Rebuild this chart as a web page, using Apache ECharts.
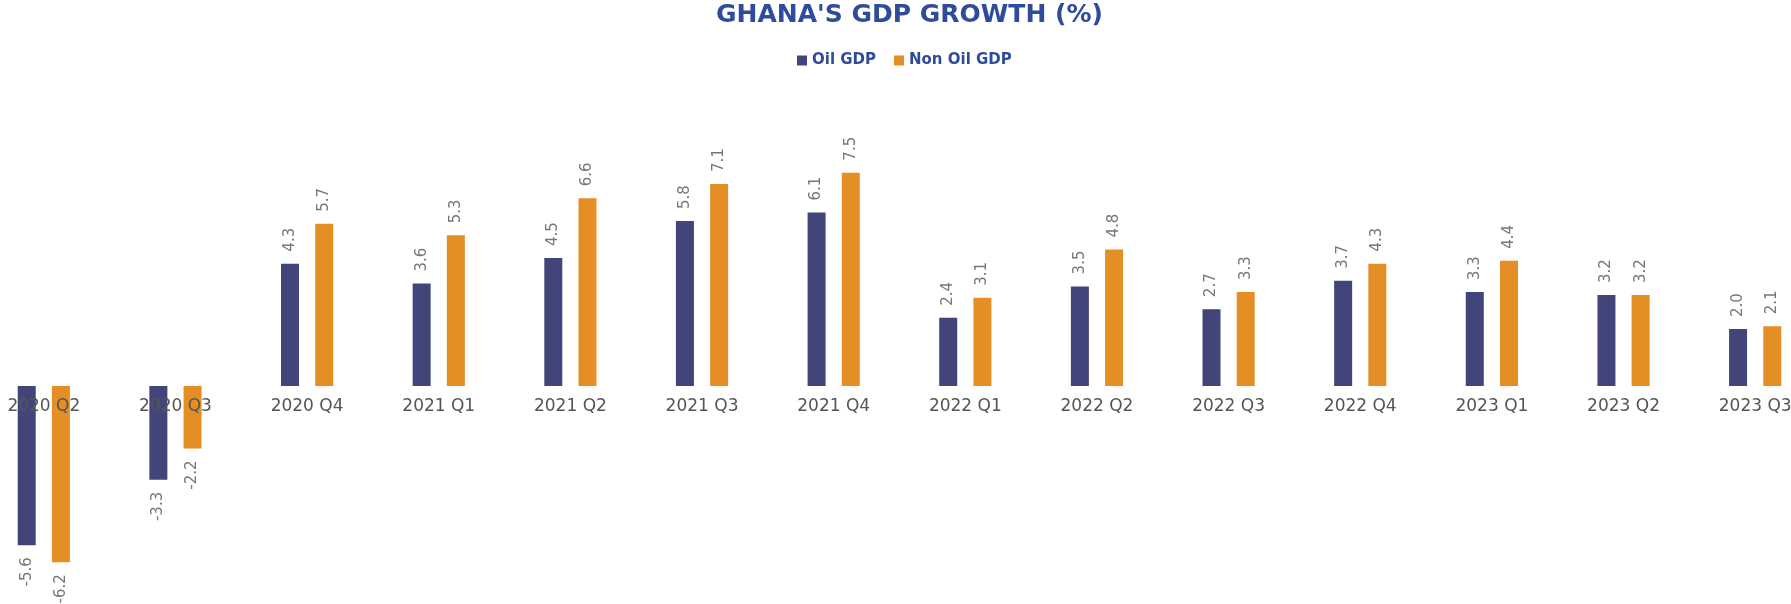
<!DOCTYPE html>
<html lang="en">
<head>
    <meta charset="UTF-8">
    <title>Ghana's GDP Growth</title>
    <script src="https://cdn.jsdelivr.net/npm/echarts@6/dist/echarts.min.js"></script>
    <style>
        html, body { margin: 0; padding: 0; background: #fff; overflow: hidden; }
    </style>
</head>
<body>
    <div id="main" style="width: 1791px; height: 604px;"></div>
    <script type="text/javascript">
        const quarters = ['2020 Q2', '2020 Q3', '2020 Q4', '2021 Q1', '2021 Q2', '2021 Q3', '2021 Q4',
            '2022 Q1', '2022 Q2', '2022 Q3', '2022 Q4', '2023 Q1', '2023 Q2', '2023 Q3'];
        const oilGdp = [-5.6, -3.3, 4.3, 3.6, 4.5, 5.8, 6.1, 2.4, 3.5, 2.7, 3.7, 3.3, 3.2, 2.0];
        const nonOilGdp = [-6.2, -2.2, 5.7, 5.3, 6.6, 7.1, 7.5, 3.1, 4.8, 3.3, 4.3, 4.4, 3.2, 2.1];

        const font = 'DejaVu Sans';

        // negative bars get their label below the bar, positive ones above
        function withLabels(values) {
            return values.map(v => ({
                value: v,
                label: v < 0
                    ? { position: 'bottom', align: 'right' }
                    : { position: 'top', align: 'left' }
            }));
        }

        const valueLabel = {
            show: true,
            rotate: 90,
            distance: 12,
            verticalAlign: 'middle',
            fontFamily: font,
            fontSize: 15,
            color: '#777777',
            formatter: p => p.value.toFixed(1)
        };

        const myChart = echarts.init(document.getElementById('main'));

        const options = {
            animation: false,
            title: {
                text: "GHANA'S GDP GROWTH (%)",
                left: 716,
                top: 0,
                padding: [3, 0, 0, 0],
                textStyle: { fontFamily: font, fontWeight: 'bold', fontSize: 25, color: '#2f4b9b' }
            },
            legend: {
                top: 53,
                left: 797,
                padding: 0,
                icon: 'rect',
                itemWidth: 10,
                itemHeight: 10,
                itemGap: 18,
                itemStyle: { borderWidth: 0 },
                textStyle: { fontFamily: font, fontWeight: 'bold', fontSize: 15, color: '#2f4b9b' },
                data: ['Oil GDP', 'Non Oil GDP']
            },
            // plot area runs past both edges of the picture, as in the original
            grid: { left: -22, right: -30, top: 130, bottom: 19, outerBoundsMode: 'none' },
            xAxis: {
                type: 'category',
                data: quarters,
                z: 5,
                axisLine: { show: false, onZero: false },
                axisTick: { show: false },
                // labels sit just under the zero line (199px above the grid bottom)
                axisLabel: { interval: 0, margin: -187, fontFamily: font, fontSize: 17, color: '#555555' }
            },
            yAxis: {
                type: 'value',
                min: -7,
                max: 9,
                axisLine: { show: false },
                axisTick: { show: false },
                axisLabel: { show: false },
                splitLine: { show: false }
            },
            series: [
                {
                    name: 'Oil GDP',
                    type: 'bar',
                    barWidth: 18,
                    barGap: '90%',
                    itemStyle: { color: '#41457a' },
                    label: valueLabel,
                    data: withLabels(oilGdp)
                },
                {
                    name: 'Non Oil GDP',
                    type: 'bar',
                    barWidth: 18,
                    itemStyle: { color: '#e58e26' },
                    label: valueLabel,
                    data: withLabels(nonOilGdp)
                }
            ]
        };

        myChart.setOption(options);
    </script>
</body>
</html>
